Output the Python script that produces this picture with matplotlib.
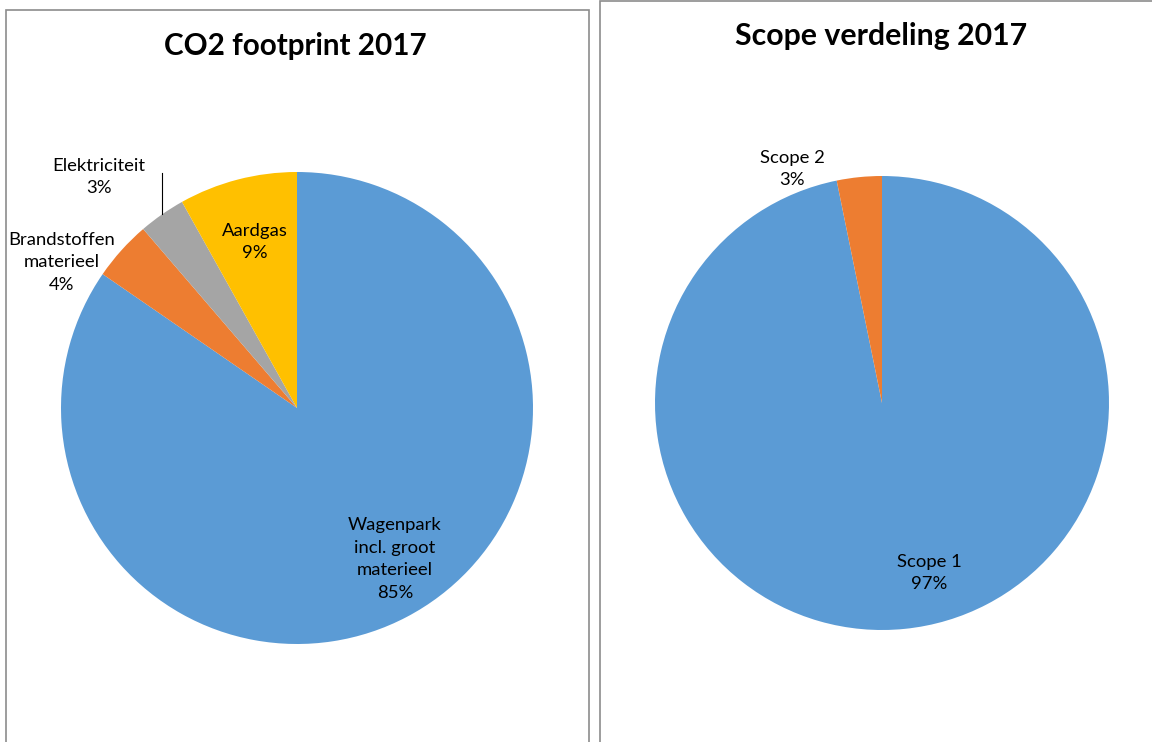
import matplotlib
matplotlib.use("Agg")
import matplotlib.pyplot as plt
from matplotlib.patches import Rectangle
from matplotlib.lines import Line2D

W, H = 1152, 742
plt.rcParams['font.family'] = ['Lato', 'DejaVu Sans']

# Data
co2_categories = ["Wagenpark\nincl. groot\nmaterieel", "Brandstoffen\nmaterieel", "Elektriciteit", "Aardgas"]
co2_values = [84.6, 4.1, 3.2, 8.1]
co2_labels = ["85%", "4%", "3%", "9%"]
co2_colors = ["#5B9BD5", "#ED7D31", "#A5A5A5", "#FFC000"]

scope_categories = ["Scope 1", "Scope 2"]
scope_values = [96.8, 3.2]
scope_labels = ["97%", "3%"]
scope_colors = ["#5B9BD5", "#ED7D31"]

fig = plt.figure(figsize=(W / 100, H / 100), dpi=100)

def fx(x):
    return x / W

def fy(y):
    return 1 - y / H

# Panel borders
fig.add_artist(Rectangle((fx(6), fy(760)), fx(589) - fx(6), fy(10) - fy(760),
                         transform=fig.transFigure, fill=False, edgecolor="#8c8c8c", linewidth=1.2))
fig.add_artist(Rectangle((fx(600), fy(760)), fx(1200) - fx(600), fy(0.8) - fy(760),
                         transform=fig.transFigure, fill=False, edgecolor="#8c8c8c", linewidth=1.2))

def pie_axes(cx, cy, r, values, colors):
    ax = fig.add_axes([fx(cx - r), fy(cy + r), 2 * r / W, 2 * r / H])
    ax.pie(values, colors=colors, startangle=90, counterclock=False, radius=1,
           wedgeprops=dict(linewidth=0))
    ax.set_xlim(-1, 1)
    ax.set_ylim(-1, 1)
    ax.set_aspect('equal')
    ax.axis('off')
    return ax

ax1 = pie_axes(297, 408, 236, co2_values, co2_colors)
ax2 = pie_axes(882, 403, 227, scope_values, scope_colors)

fs = 13.3
def label(x, y, cat, pct):
    fig.text(fx(x), fy(y), cat + "\n" + pct, ha='center', va='center', fontsize=fs,
             color="#000000", linespacing=1.5)

label(395, 559, co2_categories[0], co2_labels[0])
label(62, 262, co2_categories[1], co2_labels[1])
label(99, 177, co2_categories[2], co2_labels[2])
label(255, 242, co2_categories[3], co2_labels[3])
fig.add_artist(Line2D([fx(162), fx(162)], [fy(173), fy(214)], transform=fig.transFigure,
                      color="#000000", linewidth=0.8))

label(929, 573, scope_categories[0], scope_labels[0])
label(792, 169, scope_categories[1], scope_labels[1])

fig.text(fx(295), fy(46), "CO2 footprint 2017", ha='center', va='center', fontsize=21.3, fontweight='bold')
fig.text(fx(881), fy(36), "Scope verdeling 2017", ha='center', va='center', fontsize=21.8, fontweight='bold')

fig.savefig("out.png", dpi=100)
